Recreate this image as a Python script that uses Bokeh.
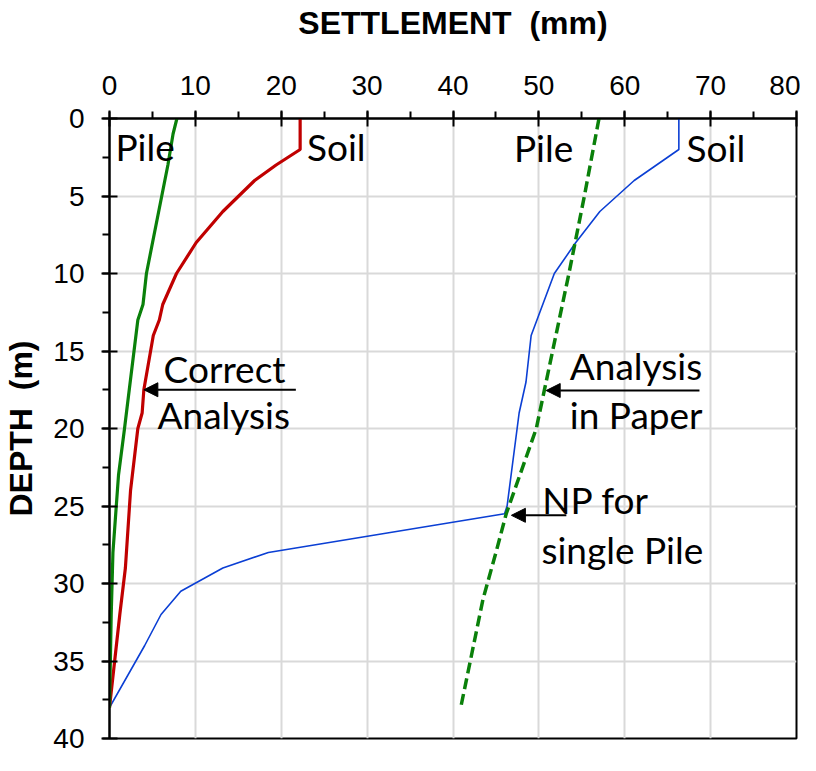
from bokeh.plotting import figure
from bokeh.models import Range1d, SingleIntervalTicker, ColumnDataSource, Arrow, NormalHead
from bokeh.core.properties import value
from bokeh.embed import file_html
from bokeh.resources import INLINE

# ---- data (settlement in mm vs depth in m) ----
# Correct analysis - soil (red)
soil_ok_depth = [0, 2, 3, 4, 6, 8, 10, 12, 13, 14, 17.5, 19, 20, 24, 29, 32, 34, 38]
soil_ok_settle = [22.2, 22.2, 19.4, 16.9, 13.2, 10.1, 7.8, 6.2, 5.8, 5.1, 4.0, 3.8, 3.3, 2.45, 1.85, 1.2, 0.8, 0.0]
# Correct analysis - pile (green solid)
pile_ok_depth = [0, 1, 3, 10, 12, 13, 17.5, 20, 23, 28, 32, 38]
pile_ok_settle = [7.85, 7.4, 6.8, 4.3, 3.9, 3.3, 2.3, 1.75, 1.05, 0.4, 0.2, 0.0]
# Analysis in paper - soil (blue)
soil_pp_depth = [0, 2, 4, 6, 8, 10, 14, 17, 19, 25, 25.5, 28, 29, 30.5, 32, 34, 38]
soil_pp_settle = [66.3, 66.3, 61.1, 57.1, 54.3, 51.8, 49.1, 48.5, 47.7, 46.3, 46.0, 18.5, 13.2, 8.3, 6.0, 4.1, 0.0]
# Analysis in paper - pile (green dashed)
pile_pp_depth = [0, 5, 10, 15, 20, 25.5, 28, 31, 34.5, 38]
pile_pp_settle = [57.0, 55.3, 53.5, 51.6, 49.7, 46.2, 45.0, 43.5, 42.2, 40.9]

x_ticks = [0, 10, 20, 30, 40, 50, 60, 70, 80]
y_ticks = [0, 5, 10, 15, 20, 25, 30, 35, 40]

# annotation texts and their anchor points (settlement, depth)
note_text = ["Pile", "Soil", "Pile", "Soil", "Correct", "Analysis", "Analysis", "in Paper", "NP for", "single Pile"]
note_x = [0.7, 23.0, 47.1, 67.2, 6.3, 5.6, 53.6, 53.6, 50.4, 50.3]
note_y = [1.8, 1.8, 1.9, 1.9, 16.1, 19.1, 15.95, 19.1, 24.55, 27.8]

arrow_x0 = [21.7, 68.7, 53.2]
arrow_x1 = [4.0, 50.85, 46.8]
arrow_y = [17.5, 17.55, 25.6]

p = figure(width=800, height=755, output_backend="svg", toolbar_location=None,
           x_range=Range1d(x_ticks[0], x_ticks[-1]), y_range=Range1d(y_ticks[-1], y_ticks[0]),
           x_axis_location="above", min_border_left=109, min_border_top=118,
           min_border_right=4, min_border_bottom=17)

p.outline_line_color = "black"
p.outline_line_width = 2
p.background_fill_color = "white"
p.border_fill_color = "white"

p.xaxis.ticker = SingleIntervalTicker(interval=10, num_minor_ticks=2)
p.yaxis.ticker = SingleIntervalTicker(interval=5, num_minor_ticks=2)
p.xgrid.ticker = SingleIntervalTicker(interval=10)
p.ygrid.ticker = SingleIntervalTicker(interval=5)

for ax in (p.xaxis, p.yaxis):
    ax.axis_line_color = "black"
    ax.axis_line_width = 2
    ax.major_tick_line_color = "black"
    ax.major_tick_line_width = 2
    ax.major_tick_in = 8
    ax.major_tick_out = 8
    ax.minor_tick_line_color = "black"
    ax.minor_tick_line_width = 2
    ax.minor_tick_in = 0
    ax.minor_tick_out = 7
    ax.major_label_text_font = "Liberation Sans"
    ax.major_label_text_font_size = "28px"
    ax.major_label_text_color = "black"
    ax.axis_label_text_font = "Liberation Sans"
    ax.axis_label_text_font_size = "32px"
    ax.axis_label_text_font_style = "bold"
    ax.axis_label_text_color = "black"

p.xaxis.axis_label = "SETTLEMENT\u00a0 (mm)"
p.yaxis.axis_label = "DEPTH\u00a0 (m)"
p.xaxis.major_label_standoff = 16
p.yaxis.major_label_standoff = 17
p.xaxis.axis_label_standoff = 32
p.yaxis.axis_label_standoff = 11

for g in (p.xgrid, p.ygrid):
    g.grid_line_color = "#d9d9d9"
    g.grid_line_width = 2

p.line(soil_pp_settle, soil_pp_depth, line_color="#0b3fd4", line_width=1.6)
p.line(pile_pp_settle, pile_pp_depth, line_color="#0a800a", line_width=3.5, line_dash="11 5")
p.line(soil_ok_settle, soil_ok_depth, line_color="#c00000", line_width=3.2)
p.line(pile_ok_settle, pile_ok_depth, line_color="#0a800a", line_width=3.2)

src = ColumnDataSource(dict(x=note_x, y=note_y, t=note_text))
p.text(x="x", y="y", text="t", source=src, text_font=value("Lato"),
       text_font_size="37px", text_color="black", text_align="left", text_baseline="alphabetic")

for xs, xe, yy in zip(arrow_x0, arrow_x1, arrow_y):
    p.add_layout(Arrow(end=NormalHead(size=14, fill_color="black", line_color="black"),
                       x_start=xs, y_start=yy, x_end=xe, y_end=yy,
                       line_color="black", line_width=2))

open("out.html", "w").write(file_html(p, INLINE))
